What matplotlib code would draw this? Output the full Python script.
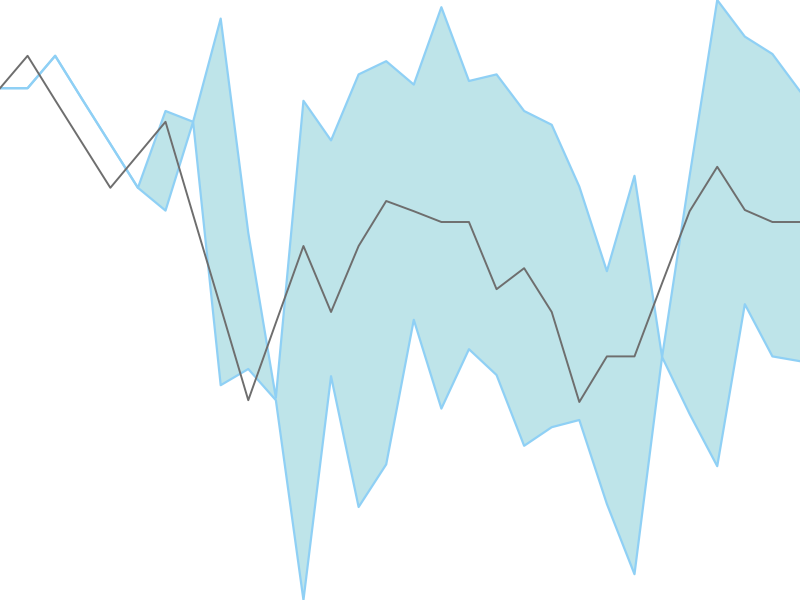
import matplotlib
matplotlib.use('Agg')
import matplotlib.pyplot as plt
import numpy as np

# series (arbitrary units, 0-100)
idx = np.arange(30)
mid = [85.3, 90.7, 83.3, 76.0, 68.7, 74.2, 79.7, 64.2, 48.8, 33.3,
       46.2, 59.0, 48.0, 59.0, 66.5, 64.8, 63.0, 63.0, 51.8, 55.3,
       48.0, 33.0, 40.6, 40.6, 52.8, 64.8, 72.2, 65.0, 63.0, 63.0]
upper = [85.3, 85.3, 90.7, 83.3, 76.0, 68.7, 81.5, 79.7, 96.9, 61.2,
         33.7, 83.2, 76.6, 87.6, 89.8, 85.9, 98.8, 86.5, 87.6, 81.5,
         79.2, 68.9, 54.8, 70.7, 40.5, 70.7, 100.0, 93.9, 91.0, 84.8]
lower = [85.3, 85.3, 90.7, 83.3, 76.0, 68.7, 64.9, 79.7, 35.8, 38.5,
         33.3, 0.0, 37.3, 15.5, 22.6, 46.7, 31.9, 41.8, 37.5, 25.7,
         28.8, 30.0, 16.0, 4.3, 40.5, 31.0, 22.3, 49.3, 40.6, 39.8]

fig = plt.figure(figsize=(8, 6), dpi=100)
ax = fig.add_axes([0, 0, 1, 1])

ax.fill_between(idx, lower, upper, color='#bee4e9', linewidth=0)
ax.plot(idx, upper, color='#8fd0f5', linewidth=1.6)
ax.plot(idx, lower, color='#8fd0f5', linewidth=1.6)
ax.plot(idx, mid, color='#6e6e6e', linewidth=1.4)

ax.set_xlim(0, 29)
ax.set_ylim(0, 100)
ax.axis('off')

fig.savefig('out.png', dpi=100)
